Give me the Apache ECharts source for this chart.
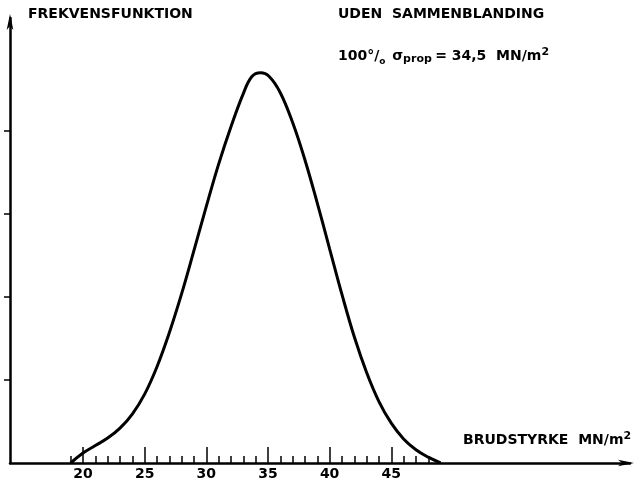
<!DOCTYPE html>
<html>
<head>
<meta charset="utf-8">
<script src="https://cdn.jsdelivr.net/npm/echarts@6/dist/echarts.min.js"></script>
<style>
  html, body { margin: 0; padding: 0; background: #fff; }
  #chart { width: 641px; height: 487px; }
</style>
</head>
<body>
<div id="chart"></div>
<script>
// Breaking strength (MN/m²) and frequency-function ordinate
const strength = [19, 20, 21, 22, 23, 24, 25, 26, 27, 28, 29, 30, 31, 32, 33, 33.7, 34.4, 35.1, 36, 37, 38, 39, 40, 41, 42, 43, 44, 45, 46, 47, 48, 49];
const frequency = [0, 0.12, 0.21, 0.3, 0.42, 0.59, 0.83, 1.16, 1.57, 2.04, 2.56, 3.09, 3.6, 4.05, 4.45, 4.655, 4.7, 4.655, 4.46, 4.1, 3.65, 3.13, 2.58, 2.03, 1.52, 1.09, 0.74, 0.48, 0.29, 0.16, 0.07, 0];

const majorTicks = [20, 25, 30, 35, 40, 45];
const minorTicks = [19, 21, 22, 23, 24, 26, 27, 28, 29, 31, 32, 33, 34, 36, 37, 38, 39, 41, 42, 43, 44, 46, 47, 48];
const yTicks = [1, 2, 3, 4];

const X_MIN = 14.08, X_MAX = 64.36;
const Y_MAX = 5.36;
const FONT = 'DejaVu Sans';

const chart = echarts.init(document.getElementById('chart'), null, { renderer: 'canvas' });

const points = strength.map((s, i) => [s, frequency[i]]);

chart.setOption({
  animation: false,
  backgroundColor: '#fff',
  grid: { left: 10, right: 11, top: 18, bottom: 24, containLabel: false },
  xAxis: [
    {
      type: 'value', min: X_MIN, max: X_MAX, position: 'bottom',
      axisLine: { show: true, lineStyle: { color: '#000', width: 2.5 }, symbol: ['none', 'arrow'], symbolSize: [5, 16], symbolOffset: [0, 4] },
      axisTick: { show: true, inside: true, length: 16, lineStyle: { color: '#000', width: 1.5 }, customValues: majorTicks },
      axisLabel: { show: true, customValues: majorTicks, color: '#000', fontFamily: FONT, fontWeight: 'bold', fontSize: 14, margin: 4 },
      splitLine: { show: false }
    },
    {
      type: 'value', min: X_MIN, max: X_MAX, position: 'bottom',
      axisLine: { show: false },
      axisTick: { show: true, inside: true, length: 7, lineStyle: { color: '#000', width: 1.5 }, customValues: minorTicks },
      axisLabel: { show: false },
      splitLine: { show: false }
    }
  ],
  yAxis: {
    type: 'value', min: 0, max: Y_MAX,
    axisLine: { show: true, lineStyle: { color: '#000', width: 2.5 }, symbol: ['none', 'arrow'], symbolSize: [5, 16], symbolOffset: [0, 4] },
    axisTick: { show: true, inside: false, length: 6, lineStyle: { color: '#000', width: 1.5 }, customValues: yTicks },
    axisLabel: { show: false },
    splitLine: { show: false }
  },
  series: [{
    type: 'line',
    xAxisIndex: 0,
    data: points,
    smooth: 0.4,
    showSymbol: false,
    lineStyle: { color: '#000', width: 3 }
  }],
  graphic: [
    {
      type: 'text', left: 28, top: 7,
      style: { text: 'FREKVENSFUNKTION', fill: '#000', font: 'bold 14px "DejaVu Sans"' }
    },
    {
      type: 'text', left: 338, top: 7,
      style: { text: 'UDEN  SAMMENBLANDING', fill: '#000', font: 'bold 14px "DejaVu Sans"' }
    },
    {
      type: 'text', left: 338, top: 47,
      style: {
        text: '{n|100°/}{s|o}  {n|σ}{sub|prop} {n|= 34,5  MN/m}{sup|2}',
        rich: {
          n: { fontFamily: FONT, fontWeight: 'bold', fontSize: 14, fill: '#000' },
          s: { fontFamily: FONT, fontWeight: 'bold', fontSize: 9, fill: '#000', verticalAlign: 'bottom' },
          sub: { fontFamily: FONT, fontWeight: 'bold', fontSize: 11, fill: '#000', padding: [6, 0, 0, 0] },
          sup: { fontFamily: FONT, fontWeight: 'bold', fontSize: 11, fill: '#000', padding: [0, 0, 8, 0] }
        }
      }
    },
    {
      type: 'text', left: 463, top: 431,
      style: {
        text: '{n|BRUDSTYRKE  MN/m}{sup|2}',
        rich: {
          n: { fontFamily: FONT, fontWeight: 'bold', fontSize: 14, fill: '#000' },
          sup: { fontFamily: FONT, fontWeight: 'bold', fontSize: 11, fill: '#000', padding: [0, 0, 8, 0] }
        }
      }
    }
  ]
});
</script>
</body>
</html>
